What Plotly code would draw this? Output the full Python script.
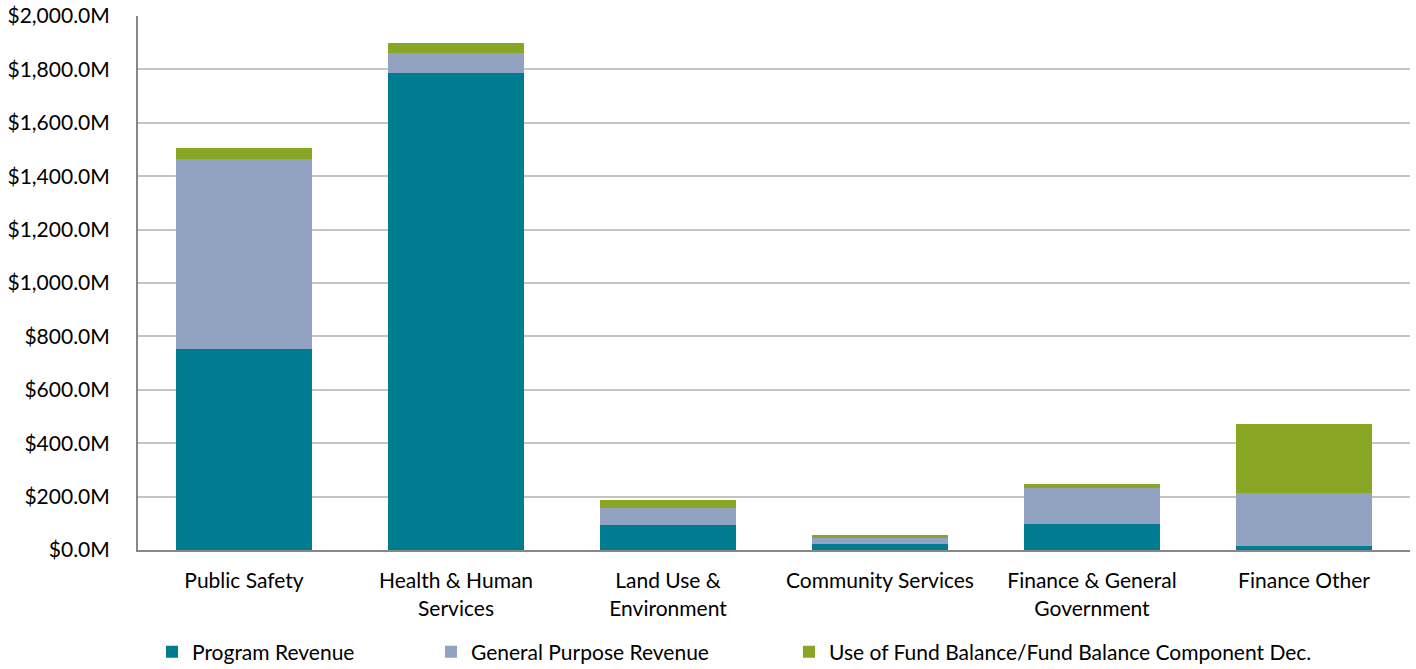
import plotly.graph_objects as go

categories = [
    "Public Safety",
    "Health & Human<br>Services",
    "Land Use &<br>Environment",
    "Community Services",
    "Finance & General<br>Government",
    "Finance Other",
]

# Amounts in millions of dollars
program_revenue = [751, 1788, 95, 22, 97, 15]
general_purpose_revenue = [714, 72, 61, 23, 137, 197]
fund_balance_use = [40, 38, 30, 10, 12, 260]

series = [
    ("Program Revenue", program_revenue, "#007C91", "legend"),
    ("General Purpose Revenue", general_purpose_revenue, "#91A3C0", "legend2"),
    ("Use of Fund Balance/Fund Balance Component Dec.", fund_balance_use, "#89A724", "legend3"),
]

FONT = "Lato, 'Open Sans', sans-serif"
FS = 21

fig = go.Figure()
for name, values, color, leg in series:
    fig.add_trace(go.Bar(
        x=categories,
        y=values,
        name=name,
        marker=dict(color=color, line=dict(width=0)),
        legend=leg,
        showlegend=True,
    ))

W, H = 1416, 669
left, right, top, bottom = 138, 6, 16, 119

def cx(px):
    return px / W

legend_y = (H - 652) / H
common_legend = dict(
    orientation="h", yanchor="middle", xanchor="left", y=legend_y,
    xref="container", yref="container",
    font=dict(family=FONT, size=FS, color="#000000"),
    bgcolor="rgba(0,0,0,0)", itemwidth=30,
)

fig.update_layout(
    width=W, height=H,
    margin=dict(l=left, r=right, t=top, b=bottom, autoexpand=False),
    paper_bgcolor="white", plot_bgcolor="white",
    barmode="stack",
    bargap=0.354,
    showlegend=True,
    font=dict(family=FONT, size=FS, color="#000000"),
    legend=dict(common_legend, x=cx(152)),
    legend2=dict(common_legend, x=cx(431)),
    legend3=dict(common_legend, x=cx(789)),
    xaxis=dict(
        showline=True, linecolor="#878787", linewidth=2,
        ticks="", ticklabelstandoff=11,
        tickfont=dict(family=FONT, size=FS, color="#000000"),
        showgrid=False,
    ),
    yaxis=dict(
        range=[0, 2000], dtick=200,
        tickprefix="$", tickformat=",.1f", ticksuffix="M",
        showgrid=True, gridcolor="#C4C4C4", gridwidth=2,
        showline=True, linecolor="#878787", linewidth=2,
        zeroline=False,
        ticks="", ticklabelstandoff=22,
        tickfont=dict(family=FONT, size=FS, color="#000000"),
    ),
)

fig.write_html("out.html")
